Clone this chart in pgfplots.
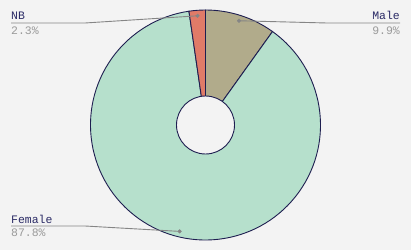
\documentclass[border=0pt]{standalone}
\usepackage{fontspec}
\usepackage{pgfplots}
\usepackage{pgfplotstable}
\pgfplotsset{compat=1.18}
\newfontfamily\monofont{Liberation Mono}

\definecolor{bg}{HTML}{F3F3F3}
\definecolor{edge}{HTML}{1E1E50}
\definecolor{male}{HTML}{B1AB8B}
\definecolor{female}{HTML}{B6E0CC}
\definecolor{nb}{HTML}{E07B68}
\definecolor{labelc}{HTML}{2B2B66}
\definecolor{pctc}{HTML}{9A9A9A}
\definecolor{leader}{HTML}{858585}

% slices in clockwise order, starting at twelve o'clock
\pgfplotstableread{
name   value color
Male   9.9   male
Female 87.8  female
NB     2.3   nb
}\slices

\begin{document}
\begin{tikzpicture}[font=\monofont\fontsize{11.5}{13}\selectfont]
\begin{axis}[
  x=1bp, y=1bp,
  xmin=0, xmax=411, ymin=0, ymax=250,
  hide axis, scale only axis, clip=false,
]
\fill[bg] (axis cs:0,0) rectangle (axis cs:411,250);
\coordinate (ll) at (axis cs:0,0);
\coordinate (ur) at (axis cs:411,250);

\pgfplotstablegetrowsof{\slices}
\pgfmathtruncatemacro\lastrow{\pgfplotsretval-1}
\def\startang{90}
\pgfplotsforeachungrouped \i in {0,...,\lastrow}{%
  \pgfplotstablegetelem{\i}{value}\of\slices \let\v\pgfplotsretval
  \pgfplotstablegetelem{\i}{color}\of\slices \let\c\pgfplotsretval
  \pgfmathsetmacro\endang{\startang-3.6*\v}%
  \pgfmathsetmacro\midang{\startang-1.8*\v}%
  \pgfmathsetmacro\mx{205.5+109.5*cos(\midang)}%
  \pgfmathsetmacro\my{125+109.5*sin(\midang)}%
  \edef\temp{%
    \noexpand\filldraw[fill=\c, draw=edge, line width=0.9bp]
      (axis cs:205.5,125) -- ++(\startang:115bp)
      arc[start angle=\startang, end angle=\endang, radius=115bp] -- cycle;
    \noexpand\coordinate (dot\i) at (axis cs:\mx,\my);
  }\temp
  \global\let\startang\endang
}

% donut hole
\filldraw[fill=bg, draw=edge, line width=0.9bp] (axis cs:205.5,125) circle[radius=29bp];

% leader lines
\draw[leader, line width=0.9bp] (dot0) -- (axis cs:327,227) -- (axis cs:400,227);
\draw[leader, line width=0.9bp] (dot2) -- (axis cs:85,227) -- (axis cs:11,227);
\draw[leader, line width=0.9bp] (dot1) -- (axis cs:85,24) -- (axis cs:11,24);

% anchor dots at the middle of each slice
\def\startang{90}
\pgfplotsforeachungrouped \i in {0,...,\lastrow}{%
  \pgfplotstablegetelem{\i}{value}\of\slices \let\v\pgfplotsretval
  \pgfmathsetmacro\midang{\startang-1.8*\v}%
  \pgfmathsetmacro\endang{\startang-3.6*\v}%
  \pgfmathsetmacro\mx{205.5+109.5*cos(\midang)}%
  \pgfmathsetmacro\my{125+109.5*sin(\midang)}%
  \edef\temp{%
    \noexpand\addplot[only marks, mark=*, mark size=1.8bp, leader]
      coordinates {(\mx,\my)};
  }\temp
  \global\let\startang\endang
}

% labels
\node[anchor=base west, text=labelc, inner sep=0] at (axis cs:11,231) {NB};
\node[anchor=base west, text=pctc, inner sep=0] at (axis cs:11,216) {2.3\%};
\node[anchor=base east, text=labelc, inner sep=0] at (axis cs:400,231) {Male};
\node[anchor=base east, text=pctc, inner sep=0] at (axis cs:400,216) {9.9\%};
\node[anchor=base west, text=labelc, inner sep=0] at (axis cs:11,27) {Female};
\node[anchor=base west, text=pctc, inner sep=0] at (axis cs:11,13.3) {87.8\%};
\end{axis}
\pgfresetboundingbox
\path (ll) rectangle (ur);
\end{tikzpicture}
\end{document}
